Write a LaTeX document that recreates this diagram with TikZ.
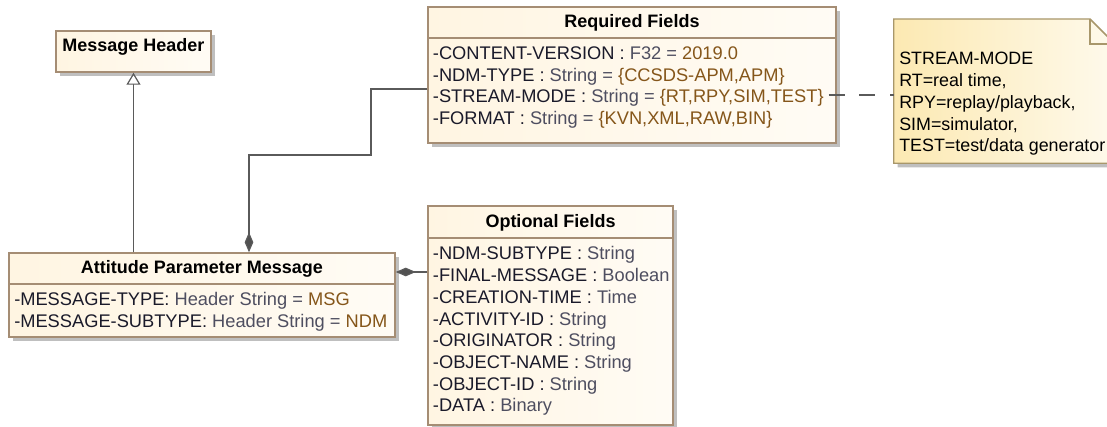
\documentclass[tikz,border=0pt]{standalone}
\usepackage{fontspec}
\setmainfont{Liberation Sans}
\usetikzlibrary{arrows.meta,shadows,fit}
\definecolor{boxline}{HTML}{A58D74}
\definecolor{boxfill}{HTML}{FFF5E2}
\definecolor{notefill}{HTML}{FCE9B2}
\definecolor{noteline}{HTML}{A8976B}
\definecolor{linkgray}{HTML}{5A5A5A}
\definecolor{attrname}{HTML}{1A1A2A}
\definecolor{attrtype}{HTML}{4E4E60}
\definecolor{attrval}{HTML}{85561A}
\newcommand{\ty}[1]{\textcolor{attrtype}{#1}}
\newcommand{\va}[1]{\textcolor{attrval}{#1}}
\tikzset{
  umlbox/.style={draw=boxline, line width=1.1pt, inner sep=0pt,
    left color=boxfill, right color=boxfill!35,
    drop shadow={shadow xshift=3pt, shadow yshift=-3pt, fill=black!25, opacity=1}},
  sepline/.style={draw=boxline, line width=1.1pt},
  title/.style={anchor=base, inner sep=0pt, font=\fontsize{13.5}{16}\selectfont\bfseries, text=black},
  attr/.style={anchor=base west, inner sep=0pt, font=\fontsize{13.7}{16}\selectfont, text=attrname},
  notetext/.style={attr, font=\fontsize{13.4}{16}\selectfont, text=black},
  link/.style={draw=linkgray, line width=0.9pt},
  gen/.style={link, -{Triangle[open, length=9pt, width=10.5pt, fill=white]}},
  comp/.style={link, -{Diamond[length=15pt, width=6.5pt, fill=linkgray!90!black]}}
}
\begin{document}
\begin{tikzpicture}[x=0.75pt, y=-0.75pt]
    \useasboundingbox (0,0) rectangle (1107,427);
    % Boxes
    \node[umlbox, fit={(56,31) (211,72)}] (hdr) {};
    \node[umlbox, fit={(428,7) (836,143)}] (req) {};
    \node[umlbox, fit={(9,253) (395,337)}] (apm) {};
    \node[umlbox, fit={(428,206) (673,425)}] (opt) {};
    % Note
    \node[inner sep=0pt, fit={(894,19) (1115,163)}] (note) {};
    \path[draw=noteline, line width=1.1pt, left color=notefill, right color=notefill!25,
      drop shadow={shadow xshift=3pt, shadow yshift=-3pt, fill=black!25, opacity=1}]
      (note.south west) |- (1090,19) -- (1115,44) |- (note.south west) -- cycle;
    \draw[draw=noteline, line width=1.1pt] (1090,19) |- (1115,44);
    % Title separators
    \draw[sepline] (428,38) -- (836,38);
    \draw[sepline] (9,284) -- (395,284);
    \draw[sepline] (428,238) -- (673,238);
    % Titles
    \node[title] (hdr-t) at (133.5,52) {Message Header};
    \node[title] (req-t) at (632,28) {Required Fields};
    \node[title] (apm-t) at (202,274) {Attitude Parameter Message};
    \node[title] (opt-t) at (550.5,227.5) {Optional Fields};
    % Attributes
    \foreach \line [count=\i] in {
        {-CONTENT-VERSION : \ty{F32 =} \va{2019.0}},
        {-NDM-TYPE : \ty{String =} \va{\{CCSDS-APM,APM\}}},
        {-STREAM-MODE : \ty{String =} \va{\{RT,RPY,SIM,TEST\}}},
        {-FORMAT : \ty{String =} \va{\{KVN,XML,RAW,BIN\}}}}
      \node[attr] (req-\i) at (432.7,{60+21.4*(\i-1)}) {\line};
    \foreach \line [count=\i] in {
        {-MESSAGE-TYPE: \ty{Header String =} \va{MSG}},
        {-MESSAGE-SUBTYPE: \ty{Header String =} \va{NDM}}}
      \node[attr] (apm-\i) at (14,{306+21.5*(\i-1)}) {\line};
    \foreach \line [count=\i] in {
        {-NDM-SUBTYPE : \ty{String}},
        {-FINAL-MESSAGE : \ty{Boolean}},
        {-CREATION-TIME : \ty{Time}},
        {-ACTIVITY-ID : \ty{String}},
        {-ORIGINATOR : \ty{String}},
        {-OBJECT-NAME : \ty{String}},
        {-OBJECT-ID : \ty{String}},
        {-DATA : \ty{Binary}}}
      \node[attr] (opt-\i) at (432.7,{260+21.7*(\i-1)}) {\line};
    \foreach \line [count=\i] in {
        STREAM-MODE, {RT=real time,}, {RPY=replay/playback,},
        {SIM=simulator,}, TEST=test/data generator}
      \node[notetext] (note-\i) at (899,{65+21.75*(\i-1)}) {\line};
    % Connectors
    \coordinate (bendA) at (371,155);
    \coordinate (apmR) at ([yshift=17.25pt]apm.east);
    \draw[gen] (hdr.south |- apm.north) -- (hdr.south);
    \draw[comp] ([yshift=-10.5pt]req.west) -| (bendA) -| ([xshift=35.25pt]apm.north);
    \draw[comp] (apmR -| opt.west) -- (apmR);
    \draw[link, dash pattern=on 12pt off 11pt] ([xshift=-6pt, yshift=-15pt]req.east) -- ([yshift=-3pt]note.west);
\end{tikzpicture}
\end{document}
